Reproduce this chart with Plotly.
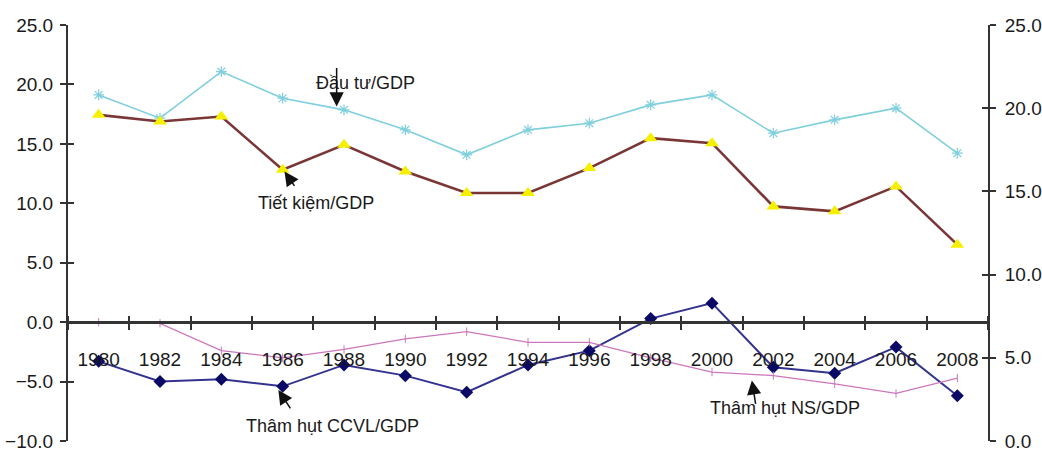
import plotly.graph_objects as go

# Years on the category axis
years = ["1980", "1982", "1984", "1986", "1988", "1990", "1992", "1994",
         "1996", "1998", "2000", "2002", "2004", "2006", "2008"]

# Right-hand scale (% of GDP)
dau_tu = [20.8, 19.4, 22.2, 20.6, 19.9, 18.7, 17.2, 18.7,
          19.1, 20.2, 20.8, 18.5, 19.3, 20.0, 17.3]
tiet_kiem = [19.6, 19.2, 19.5, 16.3, 17.8, 16.2, 14.9, 14.9,
             16.4, 18.2, 17.9, 14.1, 13.8, 15.3, 11.8]

# Left-hand scale (% of GDP)
tham_hut_ccvl = [-3.3, -5.0, -4.8, -5.4, -3.6, -4.5, -5.9, -3.6,
                 -2.4, 0.3, 1.6, -3.8, -4.3, -2.1, -6.2]
tham_hut_ns = [0.0, -0.1, -2.4, -3.0, -2.3, -1.4, -0.8, -1.7,
               -1.7, -3.0, -4.2, -4.5, -5.2, -6.0, -4.7]

FONT = "Liberation Sans"
INK = "#1A1A1A"
AXIS = "#333333"
ZERO_POS = 10 / 35  # where 0.0 sits on the -10..25 left scale

fig = go.Figure()

fig.add_trace(go.Scatter(
    x=years, y=tham_hut_ns, xaxis="x", yaxis="y3", mode="lines+markers",
    line=dict(color="#CC77BB", width=1.3),
    marker=dict(symbol="line-ns", size=6, line=dict(color="#CC77BB", width=1)),
))
fig.add_trace(go.Scatter(
    x=years, y=tham_hut_ccvl, xaxis="x", yaxis="y", mode="lines+markers",
    line=dict(color="#33338F", width=2),
    marker=dict(symbol="diamond", size=10, color="#0A0A66"),
))
fig.add_trace(go.Scatter(
    x=years, y=dau_tu, xaxis="x2", yaxis="y2", mode="lines+markers",
    line=dict(color="#7FCFDD", width=1.6),
    marker=dict(symbol="asterisk", size=9, line=dict(color="#7FCFDD", width=1.2)),
))
fig.add_trace(go.Scatter(
    x=years, y=tiet_kiem, xaxis="x2", yaxis="y4", mode="lines+markers",
    line=dict(color="#7A3636", width=2.6),
    marker=dict(symbol="triangle-up", size=12, color="#F5F000"),
))

tick_font = dict(family=FONT, size=19, color=INK)

xcommon = dict(
    type="category", categoryorder="array", categoryarray=years,
    range=[-0.5, len(years) - 0.5], domain=[0, 1], anchor="free",
    position=ZERO_POS, tickson="boundaries", ticks="outside", ticklen=6,
    tickwidth=2, tickcolor=AXIS, showgrid=False, zeroline=False,
    automargin=False,
)

ycommon = dict(showgrid=False, zeroline=False, ticklen=6, tickwidth=2,
               tickcolor=AXIS, dtick=5, tickformat=".1f", domain=[0, 1],
               automargin=False)

fig.update_layout(
    width=1042, height=452,
    margin=dict(l=68, r=54, t=25, b=11),
    paper_bgcolor="white", plot_bgcolor="white",
    showlegend=False,
    font=dict(family=FONT, color=INK),
    xaxis=dict(**xcommon, side="bottom", showline=True, linecolor=AXIS,
               linewidth=3, tickfont=tick_font, ticklabelstandoff=19),
    xaxis2=dict(**xcommon, side="top", overlaying="x", matches="x",
                showline=False, showticklabels=False),
    yaxis=dict(**ycommon, range=[-10, 25], anchor="x", side="left",
               showline=True, linecolor=AXIS, linewidth=2, ticks="outside",
               tickfont=tick_font, ticklabelstandoff=3),
    yaxis3=dict(**ycommon, matches="y", overlaying="y", anchor="x",
                side="left", ticks="inside", showline=False,
                showticklabels=False),
    yaxis2=dict(**ycommon, range=[0, 25], anchor="x2", side="right",
                overlaying="y", showline=True, linecolor=AXIS, linewidth=2,
                ticks="outside", tickfont=tick_font, ticklabelstandoff=5),
    yaxis4=dict(**ycommon, matches="y2", overlaying="y", anchor="x2",
                side="right", ticks="inside", showline=False,
                showticklabels=False),
)

label_font = dict(family=FONT, size=18, color=INK)

# Series captions
captions = [
    ("Đầu tư/GDP", 4.35, 21.5, "x2", "y2"),
    ("Tiết kiệm/GDP", 3.55, 14.3, "x2", "y2"),
    ("Thâm hụt CCVL/GDP", 3.82, -8.7, "x", "y"),
    ("Thâm hụt NS/GDP", 11.19, -7.2, "x", "y"),
]
for text, cx, cy, xr, yr in captions:
    fig.add_annotation(text=text, x=cx, y=cy, xref=xr, yref=yr,
                       showarrow=False, font=label_font)

# Pointer arrows from the captions to their lines
pointers = [
    (3.88, 20.1, "x2", "y2", 0, -40),
    (3.03, 16.2, "x2", "y2", 11, 16),
    (2.93, -5.7, "x", "y", 13, 20),
    (10.65, -4.9, "x", "y", 4, 25),
]
for px, py, xr, yr, ax, ay in pointers:
    fig.add_annotation(text="", x=px, y=py, xref=xr, yref=yr,
                       showarrow=True, ax=ax, ay=ay, arrowhead=2,
                       arrowsize=1.9, arrowwidth=1.5, arrowcolor="#111111")

fig.write_html("out.html")
